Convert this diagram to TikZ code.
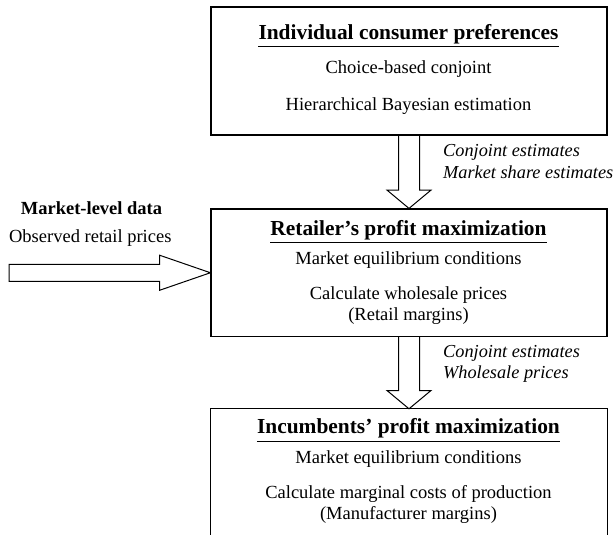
\documentclass[tikz,border=0pt]{standalone}
\usepackage{fontspec}
\setmainfont{Liberation Serif}
\begin{document}
\begin{tikzpicture}[x=1pt,y=-1pt,
  box/.style={draw,line width=1.2pt,minimum width=396pt,inner sep=0pt},
  ttl/.style={anchor=base,inner sep=0pt,font=\fontsize{21.4}{24}\selectfont\bfseries},
  txt/.style={anchor=base,inner sep=0pt,font=\fontsize{18.5}{22}\selectfont},
  lbl/.style={anchor=base west,inner sep=0pt,font=\fontsize{18.3}{22}\selectfont\itshape},
  barrow/.style={draw,line width=1pt,line join=miter},
  uline/.style={line width=1pt}]
\useasboundingbox (0,0) rectangle (616,535);
% boxes
\node[box,minimum height=128pt] (b1) at (409,71) {};
\node[box,minimum height=127.5pt] (b2) at (409,272.75) {};
\node[inner sep=0pt,minimum width=396pt,minimum height=126pt] (b3) at (409,472) {};
\draw[line width=1.2pt] (b3.south west) -- (b3.north west) -- (b3.north east) -- (b3.south east);
% box 1 text
\node[ttl] (t1) at (408.5,39.3) {Individual consumer preferences};
\draw[uline] ([yshift=-7pt]t1.base west) -- ([yshift=-7pt]t1.base east);
\node[txt] (c1) at (408.5,74) {Choice-based conjoint};
\node[txt] (c2) at (408.5,110.5) {Hierarchical Bayesian estimation};
% box 2 text
\node[ttl] (t2) at (408.5,235.7) {Retailer’s profit maximization};
\draw[uline] ([yshift=-7pt]t2.base west) -- ([yshift=-7pt]t2.base east);
\node[txt] (r1) at (408.5,264) {Market equilibrium conditions};
\node[txt] (r2) at (408.5,299) {Calculate wholesale prices};
\node[txt] (r3) at (408.5,320.5) {(Retail margins)};
% box 3 text
\node[ttl] (t3) at (408.5,433) {Incumbents’ profit maximization};
\draw[uline] ([yshift=-8pt]t3.base west) -- ([yshift=-8pt]t3.base east);
\node[txt] (i1) at (408.5,463) {Market equilibrium conditions};
\node[txt] (i2) at (408.5,498) {Calculate marginal costs of production};
\node[txt] (i3) at (408.5,519.7) {(Manufacturer margins)};
% left labels
\node[txt,font=\fontsize{18.5}{22}\selectfont\bfseries] (m1) at (91.5,214.3) {Market-level data};
\node[txt] (m2) at (90.3,242.7) {Observed retail prices};
% arrow labels
\node[lbl] (a1) at (443,156.7) {Conjoint estimates};
\node[lbl] (a2) at (443,178.3) {Market share estimates};
\node[lbl] (a3) at (443,357) {Conjoint estimates};
\node[lbl] (a4) at (443,378.7) {Wholesale prices};
% vertical block arrows
\draw[barrow] ([xshift=-10.5pt]b1.south) -- ([xshift=-10.5pt,yshift=18.3pt]b2.north)
  -- ([xshift=-22pt,yshift=18.3pt]b2.north) -- (b2.north)
  -- ([xshift=22pt,yshift=18.3pt]b2.north) -- ([xshift=10.5pt,yshift=18.3pt]b2.north)
  -- ([xshift=10.5pt]b1.south);
\draw[barrow] ([xshift=-10.5pt]b2.south) -- ([xshift=-10.5pt,yshift=18.3pt]b3.north)
  -- ([xshift=-22pt,yshift=18.3pt]b3.north) -- (b3.north)
  -- ([xshift=22pt,yshift=18.3pt]b3.north) -- ([xshift=10.5pt,yshift=18.3pt]b3.north)
  -- ([xshift=10.5pt]b2.south);
% horizontal block arrow
\coordinate (src) at (9,272.75);
\draw[barrow] ([yshift=8.5pt]src) -- ([xshift=-50.7pt,yshift=8.5pt]b2.west)
  -- ([xshift=-50.7pt,yshift=17.5pt]b2.west) -- (b2.west)
  -- ([xshift=-50.7pt,yshift=-17.5pt]b2.west) -- ([xshift=-50.7pt,yshift=-8.5pt]b2.west)
  -- ([yshift=-8.5pt]src) -- cycle;
\end{tikzpicture}
\end{document}
